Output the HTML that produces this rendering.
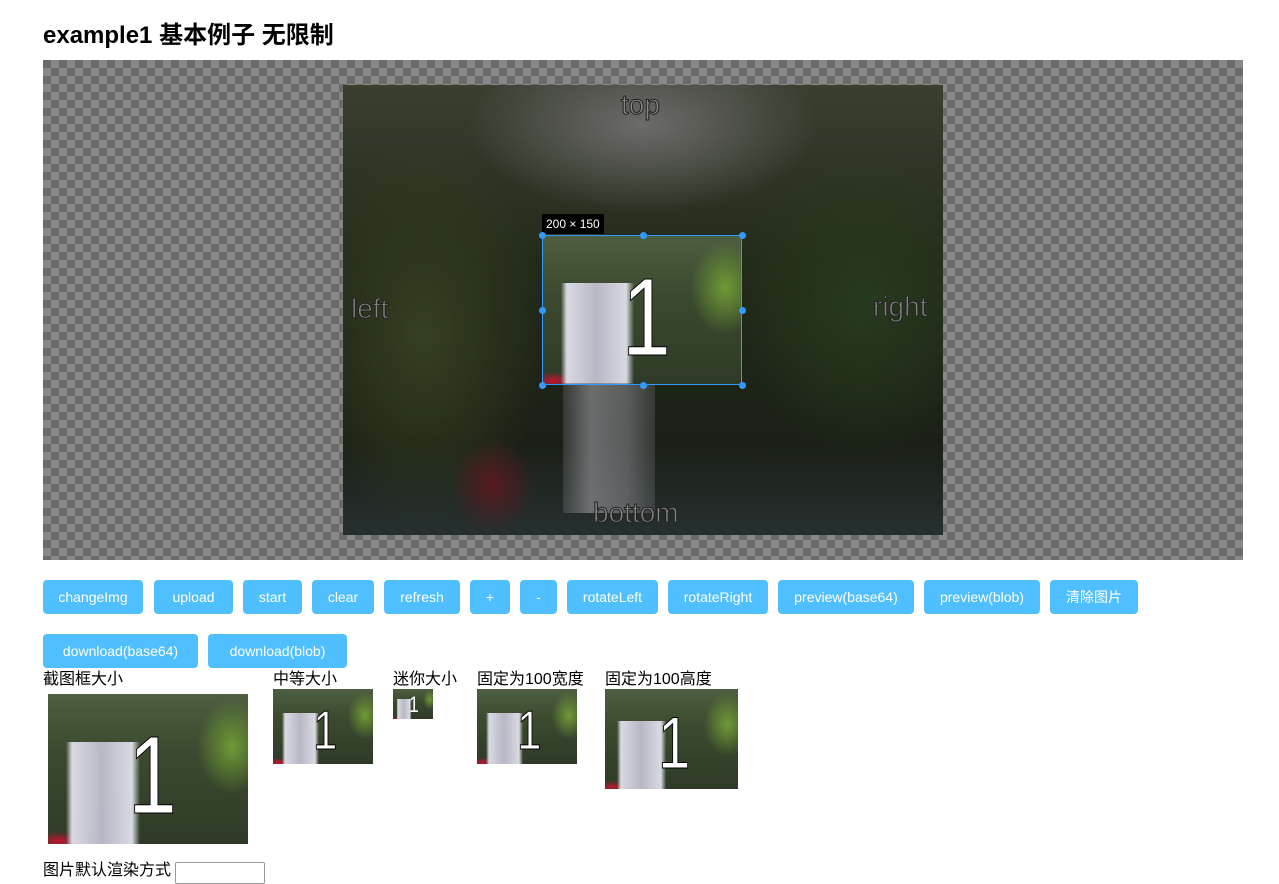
<!DOCTYPE html>
<html><head><meta charset="utf-8"><style>
body{margin:0;width:1279px;height:868px;overflow:hidden;background:#fff;font-family:"Liberation Sans","Noto Sans CJK SC",sans-serif;position:relative}
.abs{position:absolute}
h2{position:absolute;left:43px;top:20px;margin:0;font-size:24px;font-weight:bold;color:#000;line-height:32px}
#stage{left:43px;top:60px;width:1200px;height:500px;background-color:#6b6b6b;background-image:linear-gradient(45deg,#888 25%,transparent 25%,transparent 75%,#888 75%),linear-gradient(45deg,#888 25%,transparent 25%,transparent 75%,#888 75%);background-size:16px 16px;background-position:0 0,8px 8px}
#photo{left:300px;top:25px;width:600px;height:450px;overflow:hidden;
background:
radial-gradient(ellipse 60px 70px at 150px 400px,rgba(110,20,30,.7),transparent 70%),
radial-gradient(ellipse 220px 110px at 300px 40px,#6c6c6a,transparent 80%),
radial-gradient(ellipse 160px 260px at 80px 250px,#353f20,transparent 75%),
radial-gradient(ellipse 170px 200px at 520px 220px,#273a1e,transparent 75%),
linear-gradient(180deg,#3a3f30 0%,#222a1a 40%,#1a2016 80%,#263030 100%)}
.fall{position:absolute;left:220px;top:198px;width:92px;height:230px;background:linear-gradient(90deg,rgba(150,150,160,.2),rgba(170,170,180,.55) 30%,rgba(150,150,160,.5) 70%,rgba(150,150,160,.2))}
.lbl{position:absolute;font-size:28px;-webkit-text-stroke:1px #222;color:rgba(140,140,140,.9)}
#crop{left:199px;top:150px;width:200px;height:150px;border:1px solid #39f;box-sizing:border-box}
.crop{background:
linear-gradient(90deg,transparent 9%,rgba(225,225,235,.95) 12%,rgba(190,190,205,.95) 27%,rgba(225,225,235,.95) 42%,transparent 46%) 0 100%/100% 68% no-repeat,
radial-gradient(ellipse 25% 45% at 92% 35%,#6f9a35,transparent 70%),
radial-gradient(ellipse 15% 8% at 5% 98%,#c01530,transparent 80%),
linear-gradient(180deg,#4e5e40,#3b4a2e 40%,#2e3a28);overflow:hidden;position:absolute}
.crop .one{position:absolute;color:#fff;font-weight:normal;-webkit-text-stroke:1px #000;font-family:"Liberation Sans",sans-serif;line-height:1;transform:scaleX(.8);transform-origin:left top}
.h{position:absolute;width:7px;height:7px;border-radius:50%;background:#39f}
.btn{position:absolute;height:34px;background:#50bfff;color:#fff;font-size:14px;line-height:34px;text-align:center;border-radius:4px}
.t{position:absolute;font-size:16px;color:#000;line-height:18px}
</style></head><body>
<h2>example1 基本例子 无限制</h2>
<div id="stage" class="abs">
 <div id="photo" class="abs">
  <div class="fall"></div>
  <div class="lbl" style="left:278px;top:4px">top</div>
  <div class="lbl" style="left:8px;top:208px">left</div>
  <div class="lbl" style="left:530px;top:206px">right</div>
  <div class="lbl" style="left:250px;top:412px">bottom</div>
  <div class="abs" style="left:199px;top:129px;background:#000;color:#fff;font-size:12px;padding:2px 4px;line-height:16px">200 × 150</div>
  <div id="crop" class="abs crop"><div class="one" style="left:40%;top:18%;font-size:110px">1</div></div>
  <div class="h" style="left:196px;top:147px"></div>
  <div class="h" style="left:297px;top:147px"></div>
  <div class="h" style="left:396px;top:147px"></div>
  <div class="h" style="left:196px;top:222px"></div>
  <div class="h" style="left:396px;top:222px"></div>
  <div class="h" style="left:196px;top:297px"></div>
  <div class="h" style="left:297px;top:297px"></div>
  <div class="h" style="left:396px;top:297px"></div>
 </div>
</div>
<div class="btn" style="left:43px;top:580px;width:100px">changeImg</div>
<div class="btn" style="left:154px;top:580px;width:79px">upload</div>
<div class="btn" style="left:243px;top:580px;width:59px">start</div>
<div class="btn" style="left:312px;top:580px;width:62px">clear</div>
<div class="btn" style="left:384px;top:580px;width:76px">refresh</div>
<div class="btn" style="left:470px;top:580px;width:40px">+</div>
<div class="btn" style="left:520px;top:580px;width:37px">-</div>
<div class="btn" style="left:567px;top:580px;width:91px">rotateLeft</div>
<div class="btn" style="left:668px;top:580px;width:100px">rotateRight</div>
<div class="btn" style="left:778px;top:580px;width:136px">preview(base64)</div>
<div class="btn" style="left:924px;top:580px;width:116px">preview(blob)</div>
<div class="btn" style="left:1050px;top:580px;width:88px">清除图片</div>
<div class="btn" style="left:43px;top:634px;width:155px">download(base64)</div>
<div class="btn" style="left:208px;top:634px;width:139px">download(blob)</div>

<div class="t" style="left:43px;top:671px">截图框大小</div>
<div class="crop" style="left:48px;top:694px;width:200px;height:150px"><div class="one" style="left:40%;top:18%;font-size:110px">1</div></div>
<div class="t" style="left:273px;top:671px">中等大小</div>
<div class="crop" style="left:273px;top:689px;width:100px;height:75px"><div class="one" style="left:40%;top:18%;font-size:55px">1</div></div>
<div class="t" style="left:393px;top:671px">迷你大小</div>
<div class="crop" style="left:393px;top:689px;width:40px;height:30px"><div class="one" style="left:40%;top:18%;font-size:22px;-webkit-text-stroke:0">1</div></div>
<div class="t" style="left:477px;top:671px">固定为100宽度</div>
<div class="crop" style="left:477px;top:689px;width:100px;height:75px"><div class="one" style="left:40%;top:18%;font-size:55px">1</div></div>
<div class="t" style="left:605px;top:671px">固定为100高度</div>
<div class="crop" style="left:605px;top:689px;width:133px;height:100px"><div class="one" style="left:40%;top:18%;font-size:73px">1</div></div>
<div class="t" style="left:43px;top:862px">图片默认渲染方式</div>
<div class="abs" style="left:175px;top:862px;width:88px;height:20px;border:1px solid #999;border-radius:2px"></div>
</body></html>
